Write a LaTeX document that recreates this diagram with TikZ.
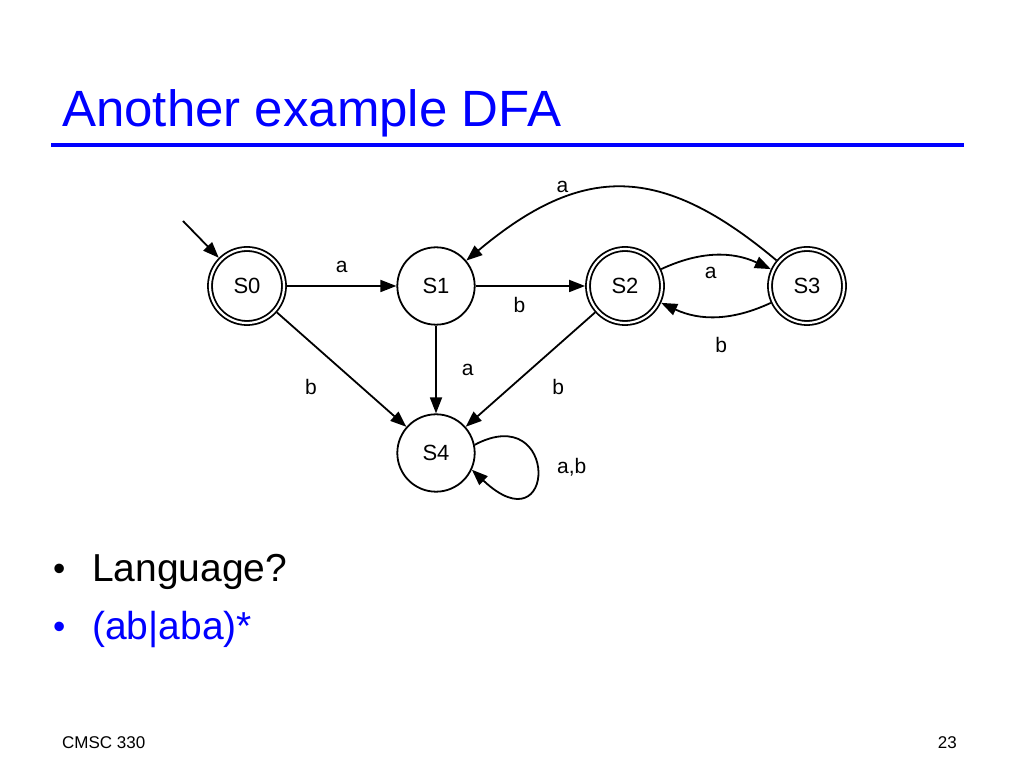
\documentclass[tikz,border=0pt]{standalone}
\usepackage{fontspec}
\setmainfont{Liberation Sans}
\usetikzlibrary{positioning,arrows.meta}
\tikzset{>={Triangle[length=16pt,width=12pt]}}

\begin{document}
\begin{tikzpicture}[
        x=1pt, y=1pt,
        state/.style={
            draw,
            circle,
            line width=1.8pt,
            minimum size=77.4pt,
            inner sep=0pt,
            font=\fontsize{22}{26}\selectfont,
          },
        accept/.style={
            state,
            double,
            double distance=2.2pt,
            minimum size=74pt,
            outer sep=2.9pt,
          },
        edge/.style={->, line width=1.8pt},
        lbl/.style={inner sep=0pt, font=\fontsize{21}{25}\selectfont},
      ]
      \useasboundingbox (0,0) rectangle (1024,768);

      % title and rule
      \node [
        anchor=base west,
        inner sep=0pt,
        text=blue,
        font=\fontsize{51}{60}\selectfont
      ] (title) at (62,641) {Another example DFA};
      \draw [blue, line width=4.5pt] (51,623) -- (964,623);

      % states
      \node [
        accept
      ] (s0) at (247,482) {S0};
      \node [
        state,
        right=189pt of s0.center, anchor=center
      ] (s1) {S1};
      \node [
        accept,
        right=189pt of s1.center, anchor=center
      ] (s2) {S2};
      \node [
        accept,
        right=182pt of s2.center, anchor=center
      ] (s3) {S3};
      \node [
        state,
        below=167pt of s1.center, anchor=center
      ] (s4) {S4};
      \coordinate (start) at (183,547);

      % transitions
      \draw[edge] (start) -- (s0.135);
      \draw[edge] (s0) -- node[lbl, above=12pt] (la) {a} (s1);
      \draw[edge] (s0) -- node[lbl, below left=9pt and 24pt] (lb) {b} (s4);
      \draw[edge] (s1) -- node[lbl, pos=0.4, below=10pt] (lc) {b} (s2);
      \draw[edge] (s1) -- node[lbl, right=25pt] (ld) {a} (s4);
      \draw[edge] (s2) -- node[lbl, below right=9pt and 21pt] (le) {b} (s4);
      \draw[edge] (s2) to[bend left=25] node[lbl, pos=0.45, below=11pt] (lf) {a} (s3);
      \draw[edge] (s3) to[bend left=25] node[lbl, pos=0.45, below=20pt] (lg) {b} (s2);
      \draw[edge] (s3.140) to[out=140, in=40, looseness=1.25]
        node[lbl, pos=0.7, above=6pt] (lh) {a} (s1.40);
      \draw[edge] (s4.12) .. controls +(85,45) and +(85,-80) .. (s4.-25);
      \node[lbl, anchor=west] (li) at (557,301) {a,b};

      % bullets
      \node [
        anchor=base west,
        inner sep=0pt,
        font=\fontsize{35}{42}\selectfont
      ] (dot1) at (53,187) {•};
      \node [
        anchor=base west,
        inner sep=0pt,
        font=\fontsize{39}{46}\selectfont
      ] (item1) at (92,186) {Language?};
      \node [
        anchor=base west,
        inner sep=0pt,
        text=blue,
        font=\fontsize{35}{42}\selectfont
      ] (dot2) at (53,130) {•};
      \node [
        anchor=base west,
        inner sep=0pt,
        text=blue,
        font=\fontsize{39}{46}\selectfont
      ] (item2) at (92,129) {(ab|aba)*};

      % footer
      \node [
        anchor=base west,
        inner sep=0pt,
        font=\fontsize{17}{20}\selectfont
      ] (course) at (62,20) {CMSC 330};
      \node [
        anchor=base east,
        inner sep=0pt,
        font=\fontsize{17}{20}\selectfont
      ] (page) at (957,20) {23};
    \end{tikzpicture}
\end{document}
